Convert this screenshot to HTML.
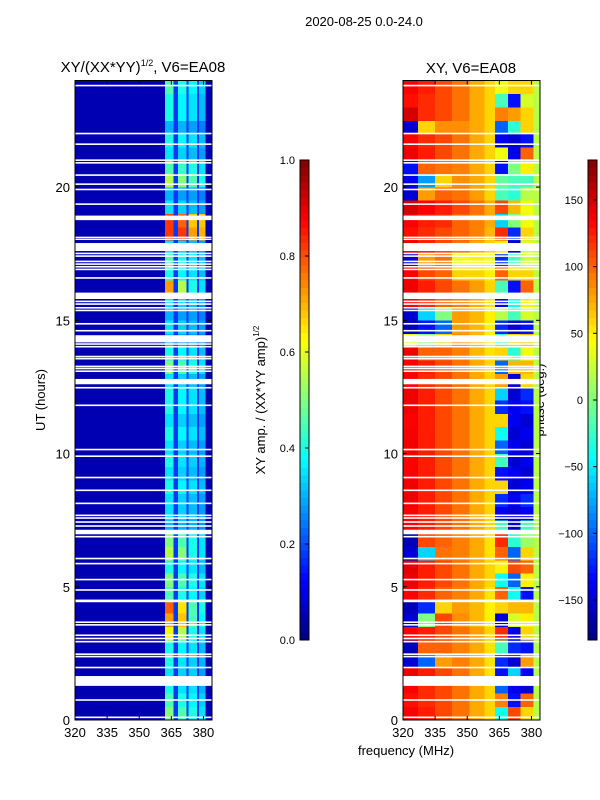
<!DOCTYPE html>
<html><head><meta charset="utf-8"><style>
html,body{margin:0;padding:0;background:#fff;}
svg{display:block;font-family:"Liberation Sans","DejaVu Sans",sans-serif;}
</style></head><body>
<svg id="fig" width="600" height="800" viewBox="0 0 600 800" xmlns="http://www.w3.org/2000/svg">
<rect x="0" y="0" width="600" height="800" fill="#fff"/>
<text x="364" y="26" font-size="13" text-anchor="middle">2020-08-25 0.0-24.0</text>
<text x="143" y="72" font-size="15" text-anchor="middle">XY/(XX*YY)<tspan font-size="9" dy="-6">1/2</tspan><tspan dy="6">, V6=EA08</tspan></text>
<text x="471" y="73" font-size="15" text-anchor="middle">XY, V6=EA08</text>
<text transform="translate(45,400) rotate(-90)" font-size="13" text-anchor="middle">UT (hours)</text>
<text x="406" y="755" font-size="13" text-anchor="middle">frequency (MHz)</text>
<text transform="translate(265,400) rotate(-90)" font-size="13" text-anchor="middle">XY amp. / (XX*YY amp)<tspan font-size="8" dy="-6">1/2</tspan></text>
<text transform="translate(544,400) rotate(-90)" font-size="13" text-anchor="middle">phase (deg.)</text>
<g id="left"></g><g id="right"></g><g id="cbars"></g><g id="axes"></g>
</svg>
<script>
// ---- data ----
const rowStartHours = [0,0.5,1,1.5,2,2.5,3,3.5,4,4.5,5,5.5,6,6.5,7,7.5,8,8.5,9,9.5,10,10.5,11,11.5,12,12.5,13,13.5,14,14.5,15,15.5,16,16.5,17,17.5,18,18.5,19,19.5,20,20.5,21,21.5,22,22.5,23,23.5];
const ampFreqEdges = [320,362,366,368,372,373,377,378,381,384];
const ampBackground = 0.05;
const ampGap = 0.18;
const ampCol1 = [.5,.45,.4,.35,.4,.4,.62,.72,.78,.45,.5,.4,.55,.5,.3,.35,.35,.4,.35,.4,.35,.4,.35,.4,.4,.35,.5,.4,.3,.35,.3,.35,.72,.4,.45,.35,.82,.82,.35,.3,.55,.45,.35,.4,.3,.4,.4,.45];
const ampCol2 = [.45,.4,.35,.33,.35,.37,.55,.68,.65,.4,.45,.37,.5,.45,.3,.33,.33,.37,.33,.35,.33,.37,.33,.37,.37,.33,.45,.37,.28,.33,.28,.33,.55,.37,.4,.33,.82,.78,.33,.28,.5,.43,.33,.37,.3,.37,.37,.4];
const ampCol3 = [.4,.37,.35,.33,.33,.35,.4,.45,.45,.37,.4,.35,.4,.4,.3,.31,.31,.35,.31,.33,.31,.35,.31,.35,.35,.31,.4,.35,.28,.31,.28,.31,.4,.35,.35,.31,.72,.68,.31,.28,.45,.4,.31,.35,.28,.35,.35,.37];
const ampCol4 = [.35,.33,.3,.28,.3,.31,.35,.37,.4,.33,.35,.31,.35,.35,.27,.28,.28,.31,.28,.3,.28,.31,.28,.31,.31,.28,.35,.31,.25,.28,.25,.28,.35,.31,.31,.28,.7,.68,.28,.25,.4,.35,.28,.31,.25,.31,.31,.33];
const phaseFreqEdges = [320,327,335,343,351,358,363,369,375,381,384];
const phaseA = [135,130,135,140,-150,-160,135,-150,-160,135,140,145,-150,-160,135,135,140,140,135,135,140,138,135,140,140,135,135,140,40,-160,-150,135,140,135,-150,140,130,135,150,-150,-140,-130,140,135,-150,150,130,135];
const phaseB = [125,120,120,125,-100,100,125,0,-120,120,125,125,-60,110,125,125,125,125,125,125,125,125,125,125,125,120,125,100,0,-130,-60,120,125,110,80,125,120,125,135,80,-80,100,125,120,60,120,120,125];
const phaseC = [110,110,110,110,80,100,110,110,60,100,110,110,95,100,110,110,110,110,110,110,110,110,110,110,110,110,110,100,60,-100,0,100,110,100,95,110,110,120,125,100,60,95,110,110,85,110,110,110];
const phaseD = [95,95,95,95,90,90,95,85,80,90,95,95,90,90,95,95,95,95,95,95,95,95,95,95,95,95,95,90,85,80,80,90,95,60,40,95,100,100,110,95,85,90,95,95,85,95,95,95];
const phaseE = [75,75,75,75,75,75,80,70,70,75,75,75,75,75,75,75,75,75,75,75,75,75,75,75,75,75,75,70,70,70,70,75,80,60,50,75,90,90,95,80,75,75,75,75,75,75,75,75];
const phaseF = [60,60,60,55,55,55,60,50,50,55,60,60,55,55,60,60,60,60,60,60,60,60,60,60,60,60,60,55,50,50,50,55,60,50,40,60,70,75,75,60,60,60,60,60,60,60,60,60];
const phaseG = [-40,90,-100,-130,-120,-20,120,-150,60,100,-40,50,100,120,-20,-140,-120,60,-130,-20,-100,-40,60,-120,-60,80,-100,60,-20,-120,20,-140,-20,100,-120,50,120,-60,110,-20,-10,-130,40,-140,-100,90,-20,40];
const phaseH = [110,-130,-140,-60,-150,-120,-140,30,70,-40,-100,110,-100,-30,-150,-150,-140,-150,-140,-150,-140,-150,-140,-140,-150,-150,70,-30,60,-150,-20,-40,-130,60,-20,-150,-120,0,70,-30,-20,0,-140,-150,-30,80,-130,60];
const phaseI = [60,100,-150,-140,80,-130,60,50,70,-130,50,100,60,10,-20,-140,-120,-140,-150,-140,-150,-140,-150,-130,-120,60,70,40,70,-130,30,50,100,60,30,30,60,40,40,20,-20,50,100,-130,60,60,30,60];
const phaseJ = [20,20,20,20,20,20,20,20,20,20,20,20,20,20,20,20,20,20,20,20,20,20,20,20,20,20,20,20,20,20,20,20,20,20,20,20,20,20,20,20,20,20,20,20,20,20,20,20];
const flagStart = [0.07,0.72,1.28,1.94,2.35,2.44,2.91,3.03,3.15,3.54,3.64,4.42,4.85,5.24,5.84,6.03,6.85,6.97,7.25,7.4,7.55,7.65,8.1,8.59,9.07,9.87,10.12,11.78,12.44,12.6,13.06,13.16,13.24,13.53,13.61,13.98,14.08,14.17,14.58,14.84,15.34,15.44,15.58,15.68,15.8,16.56,16.88,16.98,17.08,17.18,17.38,17.48,17.6,18.02,18.08,18.76,19.33,19.88,20.08,20.42,20.88,20.98,21.58,21.98,23.78];
const flagEnd =   [0.13,0.78,1.65,2.0,2.41,2.5,2.97,3.09,3.21,3.6,3.7,4.52,4.91,5.3,5.9,6.09,6.91,7.14,7.31,7.46,7.61,7.71,8.16,8.65,9.13,9.93,10.18,11.84,12.5,12.8,13.12,13.22,13.3,13.59,13.67,14.04,14.14,14.44,14.64,14.9,15.4,15.5,15.64,15.74,16.04,16.62,16.94,17.04,17.14,17.24,17.44,17.54,17.9,18.06,18.14,18.93,19.39,19.94,20.14,20.48,20.94,21.04,21.64,22.04,23.84];
const ampTicks = [0,0.2,0.4,0.6,0.8,1.0];
const ampTickLabels = ["0.0","0.2","0.4","0.6","0.8","1.0"];
const phaseTicks = [-150,-100,-50,0,50,100,150];
const phaseTickLabels = ["\u2212150","\u2212100","\u221250","0","50","100","150"];
const xTicks = [320,335,350,365,380];
const yTicks = [0,5,10,15,20];

// ---- helpers ----
const NS = "http://www.w3.org/2000/svg";
const T0 = 0, T1 = 24, F0 = 320, F1 = 384;
const PY0 = 80.5, PY1 = 720;
const panels = {left:{x0:75,x1:212}, right:{x0:403,x1:540}};
function yScale(t){ return PY1 - (t - T0) / (T1 - T0) * (PY1 - PY0); }
function xScale(p,f){ return p.x0 + (f - F0) / (F1 - F0) * (p.x1 - p.x0); }
function clamp(v){ return Math.max(0, Math.min(1, v)); }
function jet(v){
  v = clamp(v);
  const r = clamp(1.5 - Math.abs(4*v - 3)), g = clamp(1.5 - Math.abs(4*v - 2)), b = clamp(1.5 - Math.abs(4*v - 1));
  return "rgb(" + Math.round(r*255) + "," + Math.round(g*255) + "," + Math.round(b*255) + ")";
}
function mk(tag, attrs, parent){
  const e = document.createElementNS(NS, tag);
  for (const k in attrs) e.setAttribute(k, attrs[k]);
  parent.appendChild(e);
  return e;
}
const gL = document.getElementById("left"), gR = document.getElementById("right");
const gC = document.getElementById("cbars"), gA = document.getElementById("axes");

// ---- left amplitude heatmap ----
const ampCols = [null, ampCol1, "gap", ampCol2, "gap", ampCol3, "gap", ampCol4, null];
rowStartHours.forEach((t, r) => {
  for (let c = 0; c < ampCols.length; c++) {
    const col = ampCols[c];
    const v = col === null ? ampBackground : (col === "gap" ? ampGap : col[r]);
    const x0 = xScale(panels.left, ampFreqEdges[c]), x1 = xScale(panels.left, ampFreqEdges[c+1]);
    const y0 = yScale(t + 0.5), y1 = yScale(t);
    const el = mk("rect", {x:x0, y:y0, width:x1-x0+0.3, height:y1-y0+0.3, fill:jet(v), "shape-rendering":"crispEdges"}, gL);
    
    
  }
});
// ---- right phase heatmap ----
const phaseCols = [phaseA, phaseB, phaseC, phaseD, phaseE, phaseF, phaseG, phaseH, phaseI, phaseJ];
rowStartHours.forEach((t, r) => {
  for (let c = 0; c < phaseCols.length; c++) {
    const v = (phaseCols[c][r] + 180) / 360;
    const x0 = xScale(panels.right, phaseFreqEdges[c]), x1 = xScale(panels.right, phaseFreqEdges[c+1]);
    const y0 = yScale(t + 0.5), y1 = yScale(t);
    const el = mk("rect", {x:x0, y:y0, width:x1-x0+0.3, height:y1-y0+0.3, fill:jet(v), "shape-rendering":"crispEdges"}, gR);
    
    
  }
});
// ---- flagged rows (white) ----
["left","right"].forEach(k => {
  const p = panels[k], g = k === "left" ? gL : gR;
  flagStart.forEach((s, i) => {
    const el = mk("rect", {x:p.x0, y:yScale(flagEnd[i]), width:p.x1-p.x0, height:Math.max(1.2, yScale(s)-yScale(flagEnd[i])), fill:"#fff"}, g);
    
    
  });
});

// ---- axes ----
["left","right"].forEach(k => {
  const p = panels[k];
  const fr = mk("rect", {x:p.x0, y:PY0, width:p.x1-p.x0, height:PY1-PY0, fill:"none", stroke:"#000", "stroke-width":1}, gA);
  
  
  xTicks.forEach((f, i) => {
    const x = xScale(p, f);
    mk("line", {x1:x, y1:PY1, x2:x, y2:PY1-4, stroke:"#000"}, gA);
    mk("line", {x1:x, y1:PY0, x2:x, y2:PY0+4, stroke:"#000"}, gA);
    const tl = mk("text", {x:x, y:PY1+17, "font-size":13, "text-anchor":"middle"}, gA);
    tl.textContent = String(xTicks[i]);
    
    
  });
  yTicks.forEach(t => {
    const y = yScale(t);
    mk("line", {x1:p.x0, y1:y, x2:p.x0+4, y2:y, stroke:"#000"}, gA);
    mk("line", {x1:p.x1, y1:y, x2:p.x1-4, y2:y, stroke:"#000"}, gA);
    const tl = mk("text", {x:p.x0-5, y:y+5, "font-size":13, "text-anchor":"end"}, gA);
    tl.textContent = String(t);
    
    
  });
});

// ---- colorbars ----
function colorbar(x, name, ticks, labels, vmin, vmax){
  const y0 = 160, y1 = 640, w = 9, n = 64;
  for (let i = 0; i < n; i++) {
    const v = (i + 0.5) / n;
    const el = mk("rect", {x:x, y:y1 - (i+1)*(y1-y0)/n, width:w, height:(y1-y0)/n + 0.4, fill:jet(v), "shape-rendering":"crispEdges"}, gC);
    
    
  }
  const fr = mk("rect", {x:x, y:y0, width:w, height:y1-y0, fill:"none", stroke:"#000", "stroke-width":1}, gC);
  
  
  ticks.forEach((tv, i) => {
    const y = y1 - (tv - vmin) / (vmax - vmin) * (y1 - y0);
    mk("line", {x1:x+w, y1:y, x2:x+w-4, y2:y, stroke:"#000"}, gC);
    const tl = mk("text", {x:x-5, y:y+4, "font-size":11, "text-anchor":"end"}, gC);
    tl.textContent = labels[i];
    
    
  });
}
colorbar(300, "amp-colorbar", ampTicks, ampTickLabels, 0, 1);
colorbar(588, "phase-colorbar", phaseTicks, phaseTickLabels, -180, 180);
</script>
</body></html>
